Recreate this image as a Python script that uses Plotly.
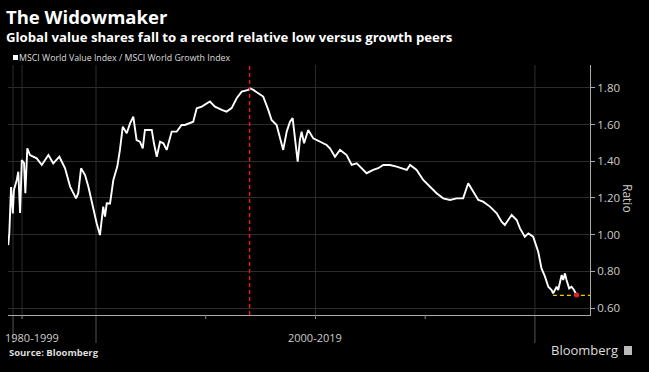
import plotly.graph_objects as go

# ---- data (decimal years, ratio) ----
years = [
    1996.00, 1996.05, 1996.13, 1996.21, 1996.26, 1996.39, 1996.46, 1996.54, 1996.62, 1996.72,
    1996.78, 1996.87, 1996.99, 1997.30, 1997.53, 1997.83, 1998.05, 1998.33, 1998.59, 1998.82,
    1999.09, 1999.19, 1999.32, 1999.50, 1999.65, 1999.88, 2000.03, 2000.18, 2000.33, 2000.41,
    2000.49, 2000.64, 2000.79, 2000.97, 2001.09, 2001.22, 2001.40, 2001.55, 2001.70, 2001.85,
    2002.00, 2002.13, 2002.23, 2002.38, 2002.54, 2002.64, 2002.77, 2002.92, 2003.07, 2003.22,
    2003.45, 2003.68, 2003.90, 2004.05, 2004.28, 2004.43, 2004.59, 2004.82, 2005.19, 2005.42,
    2005.73, 2005.95, 2006.18, 2006.41, 2006.64, 2006.94, 2007.02, 2007.17, 2007.39, 2007.62,
    2007.85, 2008.00, 2008.23, 2008.38, 2008.53, 2008.69, 2008.84, 2008.96, 2009.07, 2009.19,
    2009.29, 2009.37, 2009.48, 2009.67, 2009.90, 2010.21, 2010.51, 2010.66, 2010.89, 2011.12,
    2011.42, 2011.65, 2011.88, 2012.03, 2012.33, 2012.63, 2012.86, 2013.09, 2013.39, 2013.70,
    2014.16, 2014.31, 2014.61, 2014.91, 2015.29, 2015.52, 2015.82, 2016.13, 2016.43, 2016.73,
    2016.96, 2017.19, 2017.42, 2017.64, 2017.95, 2018.26, 2018.48, 2018.63, 2018.94, 2019.17,
    2019.32, 2019.54, 2019.70, 2019.92, 2020.15, 2020.30, 2020.46, 2020.61, 2020.76, 2020.83,
    2020.99, 2021.06, 2021.14, 2021.22, 2021.29, 2021.37, 2021.44, 2021.56, 2021.67, 2021.78,
    2021.90,
]
ratio = [
    0.943, 1.010, 1.260, 1.116, 1.244, 1.298, 1.343, 1.118, 1.407, 1.390,
    1.226, 1.471, 1.434, 1.416, 1.380, 1.434, 1.389, 1.425, 1.362, 1.262,
    1.198, 1.226, 1.362, 1.325, 1.262, 1.134, 1.062, 0.998, 1.153, 1.098,
    1.171, 1.170, 1.298, 1.371, 1.462, 1.589, 1.553, 1.607, 1.643, 1.516,
    1.507, 1.471, 1.571, 1.571, 1.571, 1.498, 1.425, 1.507, 1.498, 1.462,
    1.562, 1.562, 1.598, 1.598, 1.607, 1.616, 1.689, 1.698, 1.726, 1.698,
    1.680, 1.671, 1.690, 1.744, 1.780, 1.789, 1.798, 1.789, 1.771, 1.753,
    1.680, 1.625, 1.598, 1.534, 1.462, 1.562, 1.616, 1.635, 1.516, 1.398,
    1.516, 1.562, 1.498, 1.571, 1.525, 1.507, 1.489, 1.471, 1.425, 1.462,
    1.434, 1.380, 1.389, 1.371, 1.335, 1.353, 1.362, 1.380, 1.380, 1.371,
    1.353, 1.380, 1.353, 1.298, 1.253, 1.226, 1.198, 1.189, 1.198, 1.198,
    1.280, 1.234, 1.189, 1.180, 1.153, 1.116, 1.071, 1.053, 1.107, 1.080,
    1.034, 0.989, 1.007, 0.989, 0.907, 0.816, 0.771, 0.716, 0.698, 0.680,
    0.716, 0.698, 0.744, 0.780, 0.753, 0.789, 0.753, 0.707, 0.716, 0.698,
    0.671,
]
y_ticks = [0.60, 0.80, 1.00, 1.20, 1.40, 1.60, 1.80]
y_tick_labels = ["0.60", "0.80", "1.00", "1.20", "1.40", "1.60", "1.80"]
peak_year = 2007.0
record_low = 0.669
low_start = 2020.82
grid_years = [1996.22, 1996.63, 2000.0, 2010.0, 2020.0]
separator_years = [1996.22, 2000.0, 2020.0]
minor_tick_years = [1996.63, 2005.0, 2010.0, 2015.0]
period_labels = ["1980-1999", "2000-2019"]
period_label_x = [1997.09, 2010.0]
x_range = [1995.99, 2022.51]
y_range = [0.562, 1.925]

fig = go.Figure()

# record-low dashed line
fig.add_trace(go.Scatter(
    x=[low_start, x_range[1]], y=[record_low, record_low], mode="lines",
    line=dict(color="#e6d000", width=1.4, dash="4px,3px"), hoverinfo="skip", showlegend=False))

fig.add_trace(go.Scatter(
    x=years, y=ratio, mode="lines",
    line=dict(color="#ffffff", width=1.9), showlegend=False))

fig.add_trace(go.Scatter(
    x=[years[-1]], y=[ratio[-1]], mode="markers",
    marker=dict(color="#e0202a", size=5), showlegend=False))

shapes = []
for gx in grid_years:
    shapes.append(dict(type="line", xref="x", yref="paper", x0=gx, x1=gx, y0=0, y1=1,
                       line=dict(color="#2c2c2c", width=1), layer="below"))
for sx in separator_years:
    shapes.append(dict(type="line", xref="x", yref="paper", x0=sx, x1=sx, y0=-0.112, y1=0,
                       line=dict(color="#555555", width=1), layer="below"))
for tx in minor_tick_years:
    shapes.append(dict(type="line", xref="x", yref="paper", x0=tx, x1=tx, y0=-0.016, y1=0,
                       line=dict(color="#888888", width=1)))
shapes.append(dict(type="line", xref="x", yref="paper", x0=peak_year, x1=peak_year, y0=0, y1=1,
                   line=dict(color="#ee1520", width=1.4, dash="4px,3px")))
# Bloomberg icon
shapes.append(dict(type="rect", xref="paper", yref="paper",
                   x0=(624 - 8) / 582, x1=(632 - 8) / 582,
                   y0=-(355 - 315) / 250, y1=-(346 - 315) / 250,
                   fillcolor="#bbbbbb", line=dict(width=0)))
# legend square
shapes.append(dict(type="rect", xref="paper", yref="paper",
                   x0=(13 - 8) / 582, x1=(18 - 8) / 582,
                   y0=(315 - 60) / 250, y1=(315 - 55) / 250,
                   fillcolor="#ffffff", line=dict(width=0)))

annotations = []
def add_px_text(text, px, py, size, color="#ffffff", xanchor="left", family="Open Sans"):
    annotations.append(dict(text=text, xref="paper", yref="paper",
                            x=(px - 8) / 582, y=(315 - py) / 250,
                            xanchor=xanchor, yanchor="middle", showarrow=False,
                            font=dict(size=size, color=color, family=family)))

add_px_text("<b>The Widowmaker</b>", 4, 16, 18.5)
add_px_text("<b>Global value shares fall to a record relative low versus growth peers</b>", 4, 37, 13.2)
add_px_text("MSCI World Value Index / MSCI World Growth Index", 17, 58, 8.8, color="#dddddd")
add_px_text("<b>Source: Bloomberg</b>", 7, 352, 9.5, color="#dddddd")
add_px_text("Bloomberg", 620, 350, 13, color="#dddddd", xanchor="right")
for lab, lx in zip(period_labels, period_label_x):
    annotations.append(dict(text=lab, xref="x", yref="paper", x=lx, y=-(337 - 315) / 250,
                            xanchor="center", yanchor="middle", showarrow=False,
                            font=dict(size=11, color="#cccccc", family="Open Sans")))
annotations.append(dict(text="Ratio", xref="paper", yref="paper", x=(628 - 8) / 582,
                        y=(315 - 198) / 250, xanchor="center", yanchor="middle",
                        showarrow=False, textangle=90,
                        font=dict(size=12, color="#cccccc", family="Open Sans")))

fig.update_layout(
    width=649, height=372,
    margin=dict(l=8, r=59, t=65, b=57),
    paper_bgcolor="#000000", plot_bgcolor="#000000",
    shapes=shapes, annotations=annotations,
    xaxis=dict(range=x_range, showgrid=False, zeroline=False, showticklabels=False,
               ticks="", showline=True, linecolor="#aaaaaa", linewidth=1),
    yaxis=dict(range=y_range, side="right", tickvals=y_ticks, ticktext=y_tick_labels,
               showgrid=True, gridcolor="#2c2c2c", gridwidth=1, zeroline=False,
               ticks="outside", ticklen=4, tickcolor="#aaaaaa",
               showline=True, linecolor="#aaaaaa", linewidth=1,
               tickfont=dict(size=11.5, color="#cccccc", family="Open Sans")),
    font=dict(family="Open Sans", color="#ffffff"),
    hovermode=False,
)

fig.write_html("out.html", config={"displayModeBar": False},
               post_script="document.body.style.margin='0';document.body.style.background='#000';")
